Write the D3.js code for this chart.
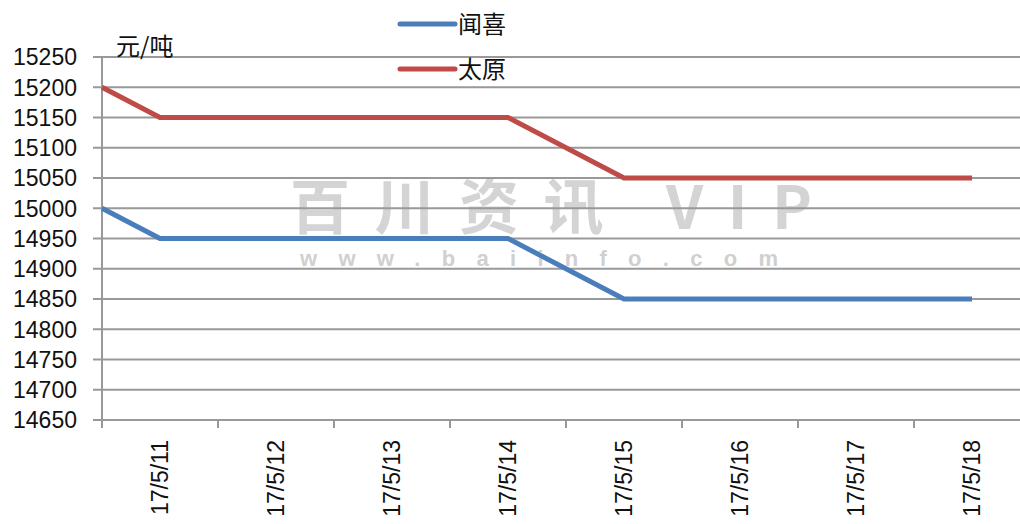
<!DOCTYPE html>
<html>
<head>
<meta charset="utf-8">
<script src="https://cdn.jsdelivr.net/npm/d3@7"></script>
<style>
  body { margin: 0; background: #fff; }
  svg { display: block; }
</style>
</head>
<body>
<div id="chart"></div>
<script>
// data
var categories = ['17/5/11', '17/5/12', '17/5/13', '17/5/14', '17/5/15', '17/5/16', '17/5/17', '17/5/18'];
var wenxi = [14950, 14950, 14950, 14950, 14850, 14850, 14850, 14850];
var taiyuan = [15150, 15150, 15150, 15150, 15050, 15050, 15050, 15050];
// values where each line enters at the left axis
var edgeValues = [15000, 15200];
var seriesNames = ['闻喜', '太原'];
var yTicks = [14650, 14700, 14750, 14800, 14850, 14900, 14950, 15000, 15050, 15100, 15150, 15200, 15250];
var unit = '元/吨';

var width = 1020, height = 524;
var margin = {left: 102, top: 57, bottom: 420};
var colors = ['#4a7ebb', '#be4b48'];
var gridColor = '#999';
var numFont = '"Liberation Sans", Arial, sans-serif';
var cjkFont = '"Noto Sans CJK SC", sans-serif';

var svg = d3.select('#chart').append('svg')
    .attr('width', width)
    .attr('height', height);

var x = d3.scaleBand().domain(categories).range([margin.left, margin.left + 116 * categories.length]);
var y = d3.scaleLinear().domain([yTicks[0], yTicks[yTicks.length - 1]]).range([margin.bottom, margin.top]);

// watermark
svg.append('text')
    .text('百川资讯 VIP')
    .attr('x', 290).attr('y', 229)
    .attr('textLength', 522).attr('lengthAdjust', 'spacing')
    .attr('font-family', cjkFont)
    .attr('font-weight', 'bold')
    .attr('font-size', 60)
    .attr('fill', '#d4d4d4');
svg.append('text')
    .text('www.baiinfo.com')
    .attr('x', 300).attr('y', 266)
    .attr('textLength', 478).attr('lengthAdjust', 'spacing')
    .attr('font-family', numFont)
    .attr('font-weight', 'bold')
    .attr('font-size', 22)
    .attr('fill', '#d0d0d0');

// gridlines + y labels
yTicks.forEach(function (t) {
    svg.append('line')
        .attr('x1', margin.left - 9).attr('x2', width)
        .attr('y1', y(t)).attr('y2', y(t))
        .attr('stroke', gridColor).attr('stroke-width', 2);
    svg.append('text')
        .text(t)
        .attr('x', 77).attr('y', y(t))
        .attr('dy', '0.36em')
        .attr('text-anchor', 'end')
        .attr('font-family', numFont)
        .attr('font-size', 23)
        .attr('fill', '#111');
});

// y axis line
svg.append('line')
    .attr('x1', margin.left).attr('x2', margin.left)
    .attr('y1', margin.top).attr('y2', margin.bottom + 8)
    .attr('stroke', gridColor).attr('stroke-width', 2);

// x tick marks at band edges
categories.forEach(function (c) {
    var xe = x(c) + x.bandwidth();
    svg.append('line')
        .attr('x1', xe).attr('x2', xe)
        .attr('y1', margin.bottom).attr('y2', margin.bottom + 8)
        .attr('stroke', gridColor).attr('stroke-width', 2);
    //rotated category label
    svg.append('text')
        .text(c)
        .attr('transform', 'translate(' + (x(c) + x.bandwidth() / 2) + ',440) rotate(-90)')
        .attr('dy', '0.36em')
        .attr('text-anchor', 'end')
        .attr('font-family', numFont)
        .attr('font-size', 23)
        .attr('fill', '#111');
});

// lines
var line = d3.line()
    .x(function (d) { return d[0]; })
    .y(function (d) { return y(d[1]); });

[wenxi, taiyuan].forEach(function (vals, i) {
    var pts = [[x.range()[0], edgeValues[i]]];
    vals.forEach(function (v, j) {
        pts.push([x(categories[j]) + x.bandwidth() / 2, v]);
    });
    svg.append('path')
        .datum(pts)
        .attr('d', line)
        .attr('fill', 'none')
        .attr('stroke', colors[i])
        .attr('stroke-width', 5)
        .attr('stroke-linejoin', 'round');
});

// unit
svg.append('text')
    .text(unit)
    .attr('x', 116).attr('y', 55)
    .attr('font-family', cjkFont)
    .attr('font-size', 24)
    .attr('fill', '#111');

// legend
seriesNames.forEach(function (name, i) {
    var ly = 24 + i * 45;
    svg.append('line')
        .attr('x1', 400).attr('x2', 455)
        .attr('y1', ly).attr('y2', ly)
        .attr('stroke', colors[i]).attr('stroke-width', 5)
        .attr('stroke-linecap', 'round');
    svg.append('text')
        .text(name)
        .attr('x', 458).attr('y', ly)
        .attr('dy', '0.36em')
        .attr('font-family', cjkFont)
        .attr('font-size', 24)
        .attr('fill', '#111');
});
</script>
</body>
</html>
